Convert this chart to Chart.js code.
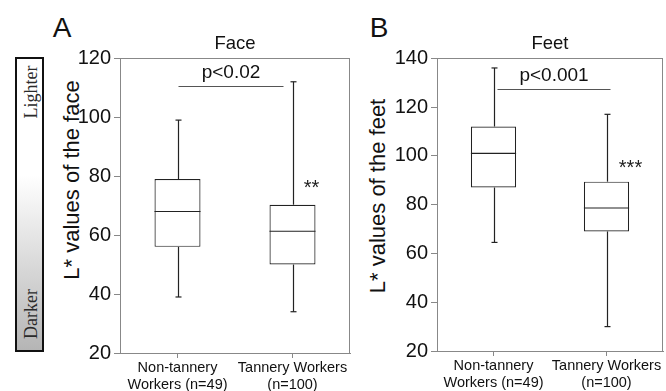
<!DOCTYPE html>
<html lang="en">
<head>
<meta charset="utf-8" />
<title>L* values of face and feet</title>
<script src="https://cdn.jsdelivr.net/npm/chart.js"></script>
<style>
    body { margin: 0; background: #fff; font-family: "Liberation Sans", Arial, sans-serif; }
    #page { position: relative; width: 666px; height: 391px; overflow: hidden; }
    .panel { position: absolute; top: 0; height: 391px; }
    .rot { position: absolute; white-space: nowrap; transform: translate(-50%, -50%) rotate(-90deg); color: #111; }
    .letter { position: absolute; font-size: 28px; transform: translate(-50%, -50%); color: #111; }
    #scale { position: absolute; left: 15px; top: 57px; width: 25px; height: 291px;
             border: 2px solid #111; background: linear-gradient(to bottom, #fff 0%, #fff 40%, #b5b5b5 100%); }
    .serif { font-family: "Liberation Serif", "DejaVu Serif", serif; font-size: 18px; color: #2a2a2a; }
</style>
</head>
<body>
<div id="page">
    <div id="scale"></div>
    <div class="rot serif" style="left:31px; top:92px;">Lighter</div>
    <div class="rot serif" style="left:31px; top:314px;">Darker</div>
    <div class="letter" style="left:62px; top:28px;">A</div>
    <div class="letter" style="left:379px; top:28px;">B</div>
    <div class="rot" style="left:72px; top:180px; font-size:22px;">L* values of the face</div>
    <div class="rot" style="left:378px; top:196px; font-size:22px;">L* values of the feet</div>
    <div class="panel" style="left:0; width:360px;"><canvas id="faceChart"></canvas></div>
    <div class="panel" style="left:340px; width:326px;"><canvas id="feetChart"></canvas></div>
</div>
<script>
    // groups
    var groups = [['Non-tannery', 'Workers (n=49)'], ['Tannery Workers', '(n=100)']];

    // face L* box plot values
    var faceMin = [39, 34];
    var faceQ1 = [56, 50];
    var faceMed = [68, 61.3];
    var faceQ3 = [79, 70.3];
    var faceMax = [99, 112];
    var faceTicks = [20, 40, 60, 80, 100, 120];

    // feet L* box plot values
    var feetMin = [64.5, 30];
    var feetQ1 = [87, 69];
    var feetMed = [101, 78.6];
    var feetQ3 = [112, 89.4];
    var feetMax = [136, 117];
    var feetTicks = [20, 40, 60, 80, 100, 120, 140];

    // significance
    var faceP = 'p<0.02', faceSigAt = 110.5, faceStars = ['', '**'], faceStarAt = 77.5;
    var feetP = 'p<0.001', feetSigAt = 127.5, feetStars = ['', '***'], feetStarAt = 97;

    var FONT = '"Liberation Sans", Arial, sans-serif';
    var AXIS = '#888';
    var INK = '#222';

    // whiskers, medians, frame and p-value annotation
    var boxExtras = {
        id: 'boxExtras',
        afterDatasetsDraw(chart, args, o) {
            const ctx = chart.ctx;
            const area = chart.chartArea;
            const x = chart.scales.x, y = chart.scales.y;
            const bars = chart.getDatasetMeta(0).data;
            ctx.save();
            ctx.strokeStyle = AXIS;
            ctx.lineWidth = 1;
            ctx.strokeRect(Math.round(area.left) + 0.5, Math.round(area.top) + 0.5,
                Math.round(area.width) - 1, Math.round(area.height));

            ctx.strokeStyle = INK;
            ctx.lineWidth = 1.2;
            for (let i = 0; i < o.min.length; i++) {
                const cx = Math.round(x.getPixelForValue(i)) + 0.5;
                const half = bars[i].width / 2;
                const line = (x1, y1, x2, y2) => {
                    ctx.beginPath(); ctx.moveTo(x1, y1); ctx.lineTo(x2, y2); ctx.stroke();
                };
                line(cx, y.getPixelForValue(o.min[i]), cx, y.getPixelForValue(o.q1[i]));
                line(cx, y.getPixelForValue(o.q3[i]), cx, y.getPixelForValue(o.max[i]));
                line(cx - 3, y.getPixelForValue(o.min[i]), cx + 3, y.getPixelForValue(o.min[i]));
                line(cx - 3, y.getPixelForValue(o.max[i]), cx + 3, y.getPixelForValue(o.max[i]));
                const my = y.getPixelForValue(o.med[i]);
                line(bars[i].x - half, my, bars[i].x + half, my);

                if (o.stars[i]) {
                    ctx.fillStyle = INK;
                    ctx.font = '20px ' + FONT;
                    ctx.textAlign = 'center';
                    ctx.textBaseline = 'alphabetic';
                    ctx.fillText(o.stars[i], cx + o.starDx, y.getPixelForValue(o.starAt) + 11);
                }
            }

            // p-value bar
            const sy = Math.round(y.getPixelForValue(o.sigAt)) + 0.5;
            const x0 = x.getPixelForValue(0) + o.sigFrom, x1 = x.getPixelForValue(1) + o.sigTo;
            ctx.strokeStyle = '#555';
            ctx.lineWidth = 1;
            ctx.beginPath(); ctx.moveTo(x0, sy); ctx.lineTo(x1, sy); ctx.stroke();
            ctx.fillStyle = '#111';
            ctx.font = '19px ' + FONT;
            ctx.textAlign = 'center';
            ctx.textBaseline = 'middle';
            ctx.fillText(o.p, (x0 + x1) / 2, sy - 14);
            ctx.restore();
        }
    };

    function makeChart(id, title, q1, q3, extras, ticks, padLeft, padRight, xHeight) {
        return new Chart(document.getElementById(id), {
            type: 'bar',
            data: {
                labels: groups,
                datasets: [{
                    data: q1.map((v, i) => [v, q3[i]]),
                    backgroundColor: '#fff',
                    borderColor: INK,
                    borderWidth: 1.2,
                    borderSkipped: false,
                    barPercentage: 0.4,
                    categoryPercentage: 1
                }]
            },
            options: {
                responsive: true,
                maintainAspectRatio: false,
                animation: false,
                layout: { padding: { left: padLeft, right: padRight, top: 0, bottom: 0 } },
                plugins: {
                    legend: { display: false },
                    tooltip: { enabled: false },
                    title: {
                        display: true, text: title, fullSize: false, color: '#111',
                        font: { family: FONT, size: 18.5, weight: 'normal' },
                        padding: { top: 33, bottom: 3 }
                    },
                    boxExtras: extras
                },
                scales: {
                    x: {
                        grid: { drawOnChartArea: false, offset: false, tickLength: 5, color: AXIS },
                        border: { color: AXIS },
                        ticks: { color: '#111', padding: 1, maxRotation: 0, autoSkip: false,
                                 font: { family: FONT, size: 14.5 } },
                        afterFit: (s) => { s.height = xHeight; }
                    },
                    y: {
                        min: ticks[0],
                        max: ticks[ticks.length - 1],
                        afterBuildTicks: (s) => { s.ticks = ticks.map(v => ({ value: v })); },
                        grid: { drawOnChartArea: false, tickLength: 6, color: AXIS },
                        border: { color: AXIS },
                        ticks: { color: '#111', padding: 3, font: { family: FONT, size: 20 } },
                        afterFit: (s) => { s.width = 60; }
                    }
                }
            },
            plugins: [boxExtras]
        });
    }

    makeChart('faceChart', 'Face', faceQ1, faceQ3, {
        min: faceMin, q1: faceQ1, med: faceMed, q3: faceQ3, max: faceMax,
        p: faceP, sigAt: faceSigAt, sigFrom: 1, sigTo: -9,
        stars: faceStars, starAt: faceStarAt, starDx: 18
    }, faceTicks, 60, 10, 38);

    makeChart('feetChart', 'Feet', feetQ1, feetQ3, {
        min: feetMin, q1: feetQ1, med: feetMed, q3: feetQ3, max: feetMax,
        p: feetP, sigAt: feetSigAt, sigFrom: 4, sigTo: 4,
        stars: feetStars, starAt: feetStarAt, starDx: 23
    }, feetTicks, 37, 3, 40);
</script>
</body>
</html>
